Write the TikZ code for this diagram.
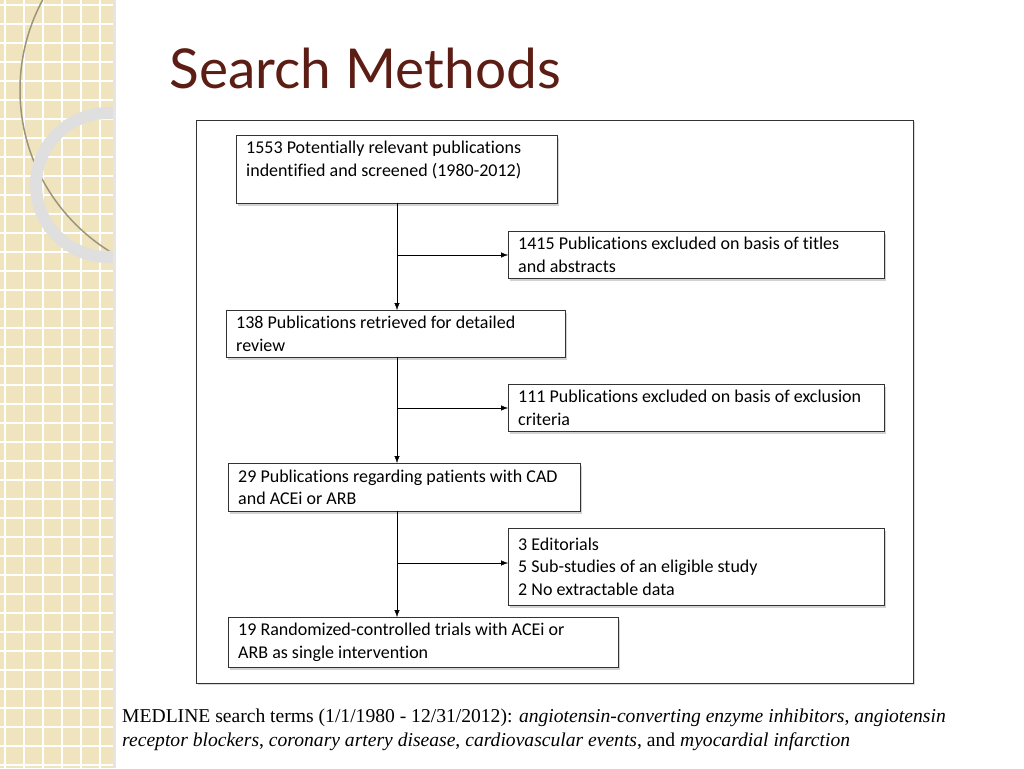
\documentclass[tikz,border=0pt]{standalone}
\usepackage{fontspec}
\setmainfont{Carlito}[Ligatures={NoCommon}]
\newfontfamily\footfont{Liberation Serif}
\newfontfamily\titlefont{Lato}
\usetikzlibrary{shadows,arrows.meta}
\definecolor{strip}{RGB}{240,228,190}
\definecolor{titlered}{RGB}{92,30,20}
\begin{document}
\begin{tikzpicture}[x=1pt,y=-1pt]
	\tikzstyle{stepbox}=[rectangle, draw=black!80, fill=white, anchor=north west, align=flush left, font=\fontsize{18}{22.5}\selectfont, inner xsep=10pt, inner ysep=4pt, drop shadow={opacity=0.35, shadow xshift=2pt, shadow yshift=-3pt}]
	\useasboundingbox (0,0) rectangle (1024,768);
	% side strip
	\begin{scope}
		\clip (0,0) rectangle (113,768);
		\fill[strip] (0,0) rectangle (113,768);
		\foreach \k in {0,...,40} {
			\draw[white, line width=1.2pt] (\k*19+5,0) -- (\k*19+5,768);
			\draw[white, line width=1.2pt] (0,\k*19+5) -- (113,\k*19+5);
		}
		\draw[black!35!strip, line width=1.5pt] (210,90) circle (190);
		\draw[gray!25, line width=12pt] (108,185) circle (72);
	\end{scope}
	\fill[black!10] (113,0) rectangle (116,768);
	% title
	\node[anchor=west, text=titlered, font=\titlefont\fontsize{55}{60}\selectfont] (title) at (166,68) {Search Methods};
	% frame
	\draw[black!80, fill=white, drop shadow={opacity=0.3}] (196,120) rectangle (913,683);
	% boxes
	\node[stepbox, minimum width=321, minimum height=68, text width=301] (b1) at (236,135) {1553 Potentially relevant publications\\indentified and screened (1980-2012)\vspace{18pt}};
	\node[stepbox, minimum width=376, minimum height=47, text width=356] (b2) at (508,231) {1415 Publications excluded on basis of titles\\and abstracts};
	\node[stepbox, minimum width=339, minimum height=47, text width=319] (b3) at (226,310) {138 Publications retrieved for detailed\\review};
	\node[stepbox, minimum width=376, minimum height=47, text width=356] (b4) at (508,384) {111 Publications excluded on basis of exclusion\\criteria};
	\node[stepbox, minimum width=352, minimum height=48, text width=332] (b5) at (228,463) {29 Publications regarding patients with CAD\\and ACEi or ARB};
	\node[stepbox, minimum width=376, minimum height=77, text width=356] (b6) at (508,528) {3 Editorials\\5 Sub-studies of an eligible study\\2 No extractable data};
	\node[stepbox, minimum width=390, minimum height=50, text width=370] (b7) at (228,617) {19 Randomized-controlled trials with ACEi or\\ARB as single intervention};
	% connectors
	\coordinate (t1) at (397,203);
	\coordinate (t3) at (397,357);
	\coordinate (t5) at (397,511);
	\coordinate (s1) at (397,255);
	\coordinate (s2) at (397,408);
	\coordinate (s3) at (397,563);
	\draw [-{Latex[length=7pt]}] (t1) -- (t1 |- b3.north);
	\draw [-{Latex[length=7pt]}] (t3) -- (t3 |- b5.north);
	\draw [-{Latex[length=7pt]}] (t5) -- (t5 |- b7.north);
	\draw [-{Latex[length=7pt]}] (s1) -- (s1 -| b2.west);
	\draw [-{Latex[length=7pt]}] (s2) -- (s2 -| b4.west);
	\draw [-{Latex[length=7pt]}] (s3) -- (s3 -| b6.west);
	% footer
	\node[anchor=north west, align=left, inner sep=0pt, font=\footfont\fontsize{19.6}{24}\selectfont] (foot) at (122,709) {MEDLINE search terms (1/1/1980 - 12/31/2012): \textit{angiotensin-converting enzyme inhibitors}, \textit{angiotensin}\\\textit{receptor blockers}, \textit{coronary artery disease}, \textit{cardiovascular events}, and \textit{myocardial infarction}};
\end{tikzpicture}
\end{document}
